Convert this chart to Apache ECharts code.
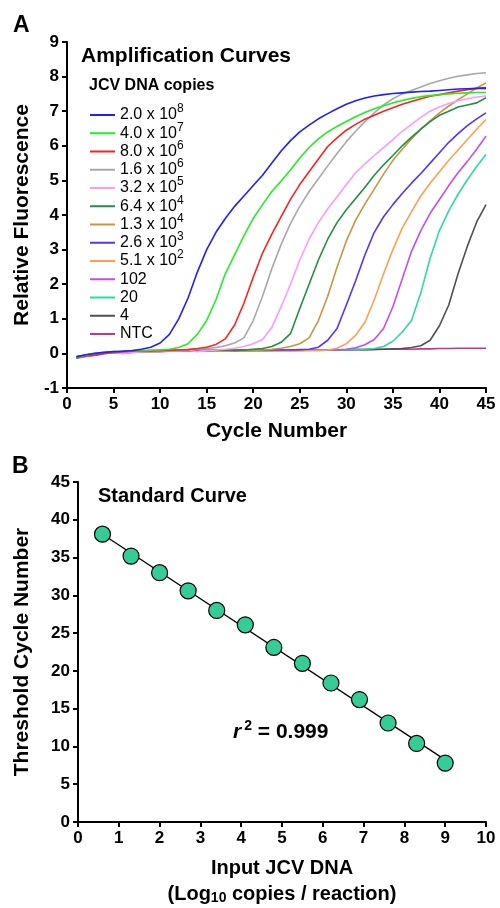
<!DOCTYPE html>
<html><head><meta charset="utf-8">
<script src="https://cdn.jsdelivr.net/npm/echarts@6/dist/echarts.min.js"></script>
<style>html,body{margin:0;padding:0;background:#fff}#c{width:500px;height:908px}</style>
</head><body><div id="c"></div>
<script>
// ---------- Panel A: amplification curves ----------
const cycles = [1,2,3,4,5,6,7,8,9,10,11,12,13,14,15,16,17,18,19,20,21,22,23,24,25,26,27,28,29,30,31,32,33,34,35,36,37,38,39,40,41,42,43,44,45];
const curveNames = ['2.0 x 10^8','4.0 x 10^7','8.0 x 10^6','1.6 x 10^6','3.2 x 10^5','6.4 x 10^4','1.3 x 10^4','2.6 x 10^3','5.1 x 10^2','102','20','4','NTC'];
const curveColors = ['#1f1fff','#22ee22','#ff2020','#a8a8a8','#ff99ff','#1f9140','#c9953f','#5533ff','#ffa050','#c04cff','#2fd9a0','#505050','#cc3388'];
const c2e8 = [-0.10,-0.04,0.00,0.03,0.05,0.06,0.08,0.12,0.18,0.30,0.55,1.00,1.60,2.35,3.00,3.50,3.90,4.25,4.55,4.85,5.15,5.50,5.85,6.15,6.40,6.60,6.78,6.93,7.07,7.20,7.30,7.38,7.44,7.48,7.51,7.53,7.55,7.57,7.58,7.60,7.62,7.64,7.65,7.66,7.66];
const c4e7 = [-0.12,-0.05,0.00,0.03,0.05,0.06,0.07,0.08,0.09,0.10,0.12,0.17,0.28,0.55,0.95,1.55,2.30,2.85,3.40,3.90,4.30,4.68,4.98,5.30,5.65,5.95,6.20,6.40,6.56,6.70,6.84,6.96,7.07,7.16,7.24,7.31,7.37,7.42,7.45,7.48,7.50,7.52,7.53,7.54,7.54];
const c8e6 = [-0.12,-0.08,-0.05,0.00,0.03,0.05,0.06,0.07,0.07,0.08,0.09,0.10,0.11,0.14,0.18,0.26,0.42,0.82,1.45,2.20,2.90,3.45,3.95,4.45,4.88,5.25,5.62,5.98,6.23,6.45,6.62,6.77,6.88,7.00,7.10,7.20,7.28,7.36,7.43,7.48,7.53,7.58,7.62,7.66,7.68];
const c16e6 = [-0.12,-0.06,-0.02,0.02,0.04,0.05,0.06,0.07,0.08,0.09,0.10,0.10,0.11,0.12,0.14,0.17,0.22,0.30,0.45,0.95,1.65,2.45,3.15,3.75,4.25,4.68,5.05,5.42,5.78,6.12,6.42,6.70,6.95,7.18,7.36,7.50,7.60,7.70,7.80,7.88,7.95,8.01,8.05,8.09,8.11];
const c32e5 = [-0.12,-0.08,-0.03,0.02,0.03,0.00,0.03,0.05,0.06,0.07,0.08,0.08,0.09,0.05,0.08,0.10,0.12,0.15,0.20,0.28,0.40,0.75,1.35,2.00,2.70,3.30,3.78,4.18,4.52,4.88,5.22,5.48,5.72,5.95,6.18,6.42,6.62,6.82,7.00,7.12,7.22,7.30,7.36,7.41,7.44];
const c64e4 = [-0.13,-0.07,-0.03,0.01,0.03,0.05,0.06,0.07,0.08,0.08,0.09,0.09,0.10,0.09,0.08,0.09,0.10,0.08,0.10,0.12,0.14,0.20,0.32,0.57,1.30,2.00,2.70,3.30,3.78,4.15,4.48,4.80,5.15,5.45,5.72,6.00,6.25,6.48,6.70,6.88,7.00,7.12,7.18,7.24,7.39];
const c13e4 = [-0.12,-0.07,-0.03,0.02,0.04,0.05,0.06,0.06,0.07,0.07,0.08,0.08,0.08,0.09,0.07,0.08,0.08,0.09,0.07,0.08,0.10,0.12,0.15,0.20,0.28,0.45,0.95,1.65,2.49,3.25,3.85,4.32,4.75,5.18,5.58,5.90,6.20,6.48,6.72,6.95,7.15,7.33,7.50,7.67,7.82];
const c26e3 = [-0.10,-0.06,-0.02,0.02,0.04,0.05,0.05,0.06,0.06,0.07,0.07,0.08,0.08,0.08,0.09,0.09,0.09,0.10,0.10,0.10,0.10,0.10,0.10,0.10,0.11,0.12,0.18,0.38,0.72,1.40,2.10,2.85,3.50,3.95,4.30,4.62,4.92,5.20,5.50,5.80,6.10,6.35,6.58,6.78,6.95];
const c51e2 = [-0.11,-0.06,-0.02,0.01,0.03,0.04,0.05,0.05,0.05,0.06,0.06,0.06,0.07,0.07,0.07,0.06,0.07,0.07,0.07,0.08,0.08,0.08,0.08,0.08,0.07,0.08,0.08,0.10,0.15,0.28,0.52,0.90,1.55,2.30,3.00,3.62,4.10,4.55,4.92,5.25,5.58,5.88,6.18,6.48,6.76];
const c102 = [-0.11,-0.07,-0.03,0.01,0.03,0.04,0.05,0.05,0.06,0.06,0.06,0.07,0.07,0.07,0.08,0.08,0.08,0.08,0.08,0.08,0.08,0.09,0.09,0.09,0.09,0.09,0.09,0.10,0.10,0.12,0.16,0.25,0.40,0.72,1.35,2.15,2.95,3.55,4.05,4.45,4.85,5.22,5.55,5.90,6.28];
const c20 = [-0.10,-0.06,-0.02,0.01,0.03,0.04,0.05,0.05,0.05,0.06,0.06,0.06,0.07,0.07,0.07,0.07,0.07,0.08,0.08,0.08,0.08,0.08,0.08,0.09,0.09,0.09,0.09,0.10,0.10,0.10,0.11,0.12,0.14,0.20,0.35,0.62,0.95,1.75,2.75,3.55,4.12,4.60,5.02,5.40,5.75];
const c4 = [-0.10,-0.05,-0.02,0.01,0.03,0.04,0.05,0.05,0.06,0.06,0.06,0.07,0.07,0.07,0.08,0.08,0.08,0.08,0.08,0.09,0.09,0.09,0.09,0.09,0.10,0.10,0.10,0.10,0.10,0.10,0.11,0.11,0.12,0.12,0.13,0.14,0.17,0.22,0.38,0.80,1.40,2.30,3.10,3.80,4.30];
const cNTC = [-0.14,-0.09,-0.05,-0.01,0.02,0.00,0.03,0.04,0.05,0.05,0.06,0.06,0.06,0.07,0.06,0.07,0.07,0.08,0.07,0.08,0.08,0.08,0.09,0.08,0.09,0.09,0.09,0.10,0.10,0.10,0.11,0.11,0.11,0.12,0.12,0.13,0.12,0.13,0.13,0.14,0.14,0.15,0.15,0.15,0.15];
const curveValues = [c2e8,c4e7,c8e6,c16e6,c32e5,c64e4,c13e4,c26e3,c51e2,c102,c20,c4,cNTC];

// ---------- Panel B: standard curve ----------
const logCopies = [0.6,1.3,2.0,2.7,3.4,4.1,4.8,5.5,6.2,6.9,7.6,8.3,9.0];
const ctValues = [38.1,35.2,33.0,30.6,28.0,26.1,23.1,21.0,18.4,16.2,13.1,10.4,7.8];

// tick settings
const ampXTicks = {min:0, max:45, interval:5};
const ampYTicks = {min:-1, max:9, interval:1};
const stdXTicks = {min:0, max:10, interval:1};
const stdYTicks = {min:0, max:45, interval:5};

const FONT = '"Liberation Sans", Arial, Helvetica, sans-serif';

// least-squares fit for the standard curve line
const n = logCopies.length;
const mx = logCopies.reduce((a,b)=>a+b,0)/n;
const my = ctValues.reduce((a,b)=>a+b,0)/n;
let sxy=0, sxx=0;
for (let i=0;i<n;i++){ sxy += (logCopies[i]-mx)*(ctValues[i]-my); sxx += (logCopies[i]-mx)**2; }
const slope = sxy/sxx, icpt = my - slope*mx;
const fitLine = [[logCopies[0], icpt+slope*logCopies[0]],[logCopies[n-1], icpt+slope*logCopies[n-1]]];

function axisCommon(){
  return {
    axisLine:{show:true, onZero:false, lineStyle:{color:'#000', width:2}},
    axisTick:{show:true, inside:false, length:5, lineStyle:{color:'#000', width:2}},
    axisLabel:{color:'#000', fontSize:17, fontWeight:'bold', fontFamily:FONT},
    splitLine:{show:false},
    nameLocation:'middle',
    nameTextStyle:{color:'#000', fontSize:21, fontWeight:'bold', fontFamily:FONT}
  };
}

const series = curveNames.map((nm, i) => ({
  name: nm, type:'line', xAxisIndex:0, yAxisIndex:0,
  data: cycles.map((c,j)=>[c, curveValues[i][j]]),
  symbol:'none', color: curveColors[i],
  lineStyle:{width:1.6, color: curveColors[i]},
  z: 2 + (12 - i) * 0.01,
  animation:false
}));
series.push({
  name:'fit', type:'line', xAxisIndex:1, yAxisIndex:1, data:fitLine,
  symbol:'none', lineStyle:{color:'#000', width:1.3}, animation:false, z:3
});
series.push({
  name:'points', type:'scatter', xAxisIndex:1, yAxisIndex:1,
  data: logCopies.map((x,i)=>[x, ctValues[i]]),
  symbol:'circle', symbolSize:16,
  itemStyle:{color:'#36cc98', borderColor:'#000', borderWidth:1.2, opacity:1},
  animation:false, z:4
});

const option = {
  animation:false,
  backgroundColor:'#fff',
  textStyle:{fontFamily:FONT},
  grid:[
    {left:67, top:42, width:419, height:346},
    {left:78, top:482, width:408, height:346}
  ],
  xAxis:[
    Object.assign(axisCommon(), {type:'value', gridIndex:0, min:ampXTicks.min, max:ampXTicks.max, interval:ampXTicks.interval,
      name:'Cycle Number', nameGap:33}),
    Object.assign(axisCommon(), {type:'value', gridIndex:1, min:stdXTicks.min, max:stdXTicks.max, interval:stdXTicks.interval,
      name:'{b|Input JCV DNA}\n{b|(Log}{sub|10}{b| copies / reaction)}', nameGap:33,
      nameTextStyle:{color:'#000', fontSize:20, fontWeight:'bold', fontFamily:FONT, lineHeight:26,
        rich:{b:{fontSize:20, fontWeight:'bold', fontFamily:FONT, color:'#000', lineHeight:26},
              sub:{fontSize:14, fontWeight:'bold', fontFamily:FONT, color:'#000', lineHeight:26, padding:[8,0,0,0]}}}})
  ],
  yAxis:[
    Object.assign(axisCommon(), {type:'value', gridIndex:0, min:ampYTicks.min, max:ampYTicks.max, interval:ampYTicks.interval,
      name:'Relative Fluorescence', nameGap:34, nameRotate:90}),
    Object.assign(axisCommon(), {type:'value', gridIndex:1, min:stdYTicks.min, max:stdYTicks.max, interval:stdYTicks.interval,
      name:'Threshold Cycle Number', nameGap:45, nameRotate:90})
  ],
  legend:{
    orient:'vertical', left:90, top:103, padding:0, itemGap:-5.75,
    itemWidth:25, itemHeight:2, icon:'rect',
    data: curveNames,
    formatter: nm => /\^/.test(nm) ? nm.replace(/\^(\d+)$/, '{sup|$1}') : nm + '{sup| }',
    textStyle:{fontSize:16, color:'#000', fontFamily:FONT, lineHeight:18,
      rich:{sup:{fontSize:12, color:'#000', fontFamily:FONT, lineHeight:18, padding:[0,0,12,0]}}},
    selectedMode:false
  },
  graphic:[
    {type:'text', x:13, y:26, style:{text:'A', fontSize:23, fontWeight:'bold', fontFamily:FONT, fill:'#000', verticalAlign:'middle'}},
    {type:'text', x:81, y:56, style:{text:'Amplification Curves', fontSize:21, fontWeight:'bold', fontFamily:FONT, fill:'#000', verticalAlign:'middle'}},
    {type:'text', x:89, y:86, style:{text:'JCV DNA copies', fontSize:16, fontWeight:'bold', fontFamily:FONT, fill:'#000', verticalAlign:'middle'}},
    {type:'text', x:12, y:467, style:{text:'B', fontSize:23, fontWeight:'bold', fontFamily:FONT, fill:'#000', verticalAlign:'middle'}},
    {type:'text', x:98, y:496, style:{text:'Standard Curve', fontSize:20, fontWeight:'bold', fontFamily:FONT, fill:'#000', verticalAlign:'middle'}},
    {type:'text', x:233, y:732, style:{text:'{i|r}{sup|2}{b| = 0.999}', fontFamily:FONT, fill:'#000', verticalAlign:'middle',
      rich:{i:{fontSize:21, fontWeight:'bold', fontStyle:'italic', fontFamily:FONT, fill:'#000', lineHeight:24, padding:[0,3,0,0]},
            sup:{fontSize:14, fontWeight:'bold', fontFamily:FONT, fill:'#000', lineHeight:24, padding:[0,0,12,0]},
            b:{fontSize:21, fontWeight:'bold', fontFamily:FONT, fill:'#000', lineHeight:24}}}}
  ],
  series: series
};
const chart = echarts.init(document.getElementById('c'), null, {renderer:'canvas', width:500, height:908});
chart.setOption(option);
</script></body></html>
